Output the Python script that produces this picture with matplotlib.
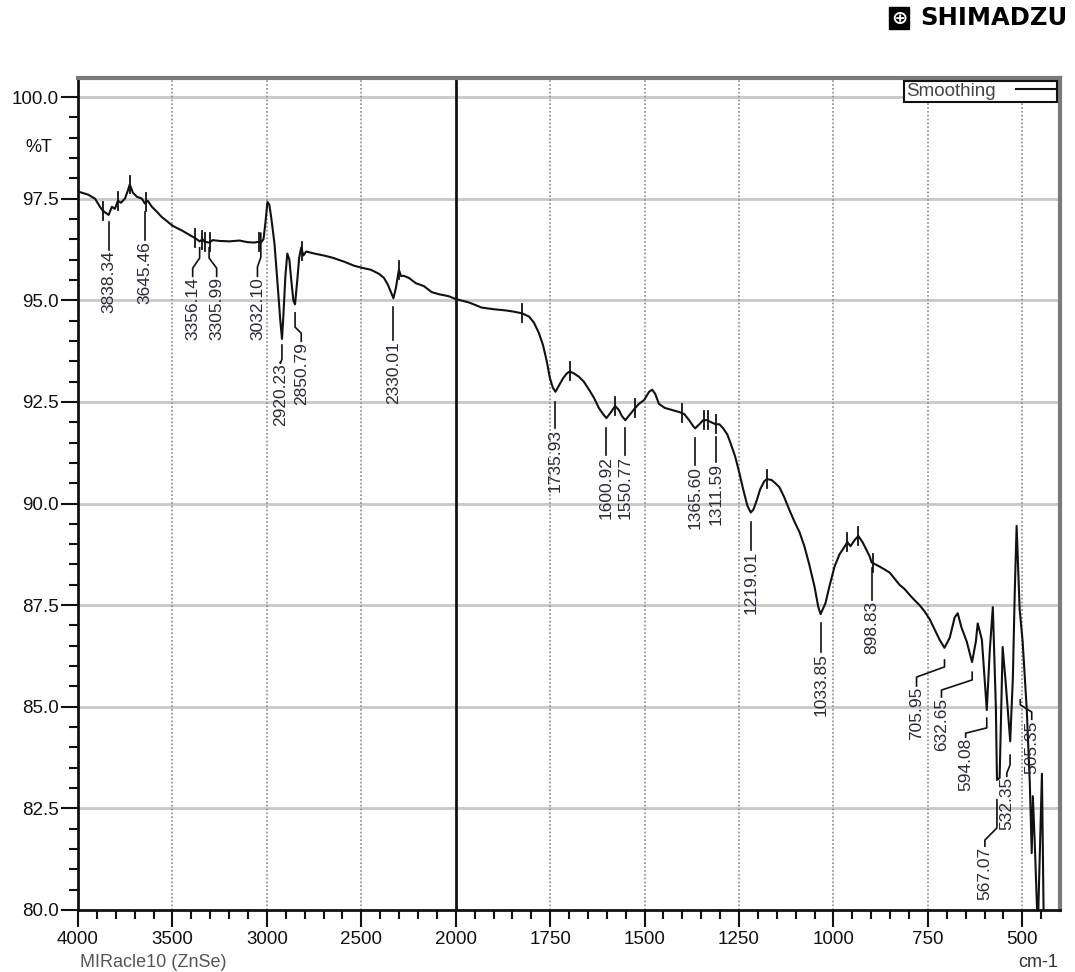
import numpy as np
import matplotlib
matplotlib.use("Agg")
import matplotlib.pyplot as plt
from matplotlib.ticker import FixedLocator, FuncFormatter

plt.rcParams['font.family'] = ['Liberation Sans', 'DejaVu Sans']

# smoothed ATR spectrum, wavenumber (cm-1) vs %T
wavenumber = [
    4000, 3989, 3947, 3910, 3884, 3868, 3838, 3821, 3805, 3789, 3773, 3752,
    3736, 3726, 3710, 3689, 3662, 3646, 3631, 3609, 3583, 3557, 3530, 3504,
    3478, 3451, 3425, 3398, 3377, 3356, 3341, 3330, 3306, 3287, 3250, 3198,
    3145, 3103, 3066, 3045, 3032, 3018, 3008, 2997, 2987, 2976, 2960, 2945,
    2929, 2920, 2913, 2902, 2892, 2881, 2871, 2860, 2851, 2839, 2829, 2818,
    2807, 2792, 2749, 2697, 2654, 2591, 2538, 2496, 2449, 2406, 2380, 2359,
    2343, 2330, 2317, 2301, 2290, 2274, 2248, 2211, 2169, 2127, 2090, 2037,
    2000, 1966, 1931, 1899, 1867, 1846, 1825, 1806, 1793, 1780, 1769, 1759,
    1751, 1743, 1736, 1727, 1716, 1706, 1698, 1687, 1674, 1661, 1647, 1634,
    1621, 1610, 1601, 1589, 1578, 1568, 1560, 1551, 1538, 1525, 1515, 1501,
    1488, 1480, 1472, 1462, 1446, 1427, 1408, 1395, 1382, 1371, 1366, 1355,
    1345, 1334, 1324, 1312, 1302, 1292, 1281, 1271, 1260, 1249, 1239, 1228,
    1219, 1212, 1204, 1194, 1183, 1176, 1164, 1154, 1143, 1130, 1117, 1103,
    1090, 1077, 1064, 1050, 1040, 1034, 1021, 1011, 997, 984, 973, 963,
    955, 944, 934, 923, 912, 904, 899, 878, 865, 851, 838, 825,
    812, 798, 785, 772, 759, 745, 732, 719, 706, 692, 679, 671,
    661, 647, 637, 633, 623, 618, 607, 599, 594, 586, 578, 570,
    567, 560, 552, 544, 532, 525, 520, 515, 507, 499, 488, 480,
    475, 472, 467, 459, 448, 443, 437,
]
transmittance = [
    97.68, 97.66, 97.60, 97.50, 97.30, 97.20, 97.10, 97.30, 97.25, 97.45, 97.40, 97.50,
    97.70, 97.85, 97.65, 97.55, 97.50, 97.38, 97.45, 97.30, 97.18, 97.05, 96.95, 96.85,
    96.78, 96.72, 96.65, 96.58, 96.52, 96.45, 96.50, 96.44, 96.42, 96.48, 96.46, 96.45,
    96.47, 96.43, 96.42, 96.44, 96.42, 96.50, 96.90, 97.42, 97.35, 97.00, 96.40, 95.50,
    94.50, 94.05, 94.60, 95.60, 96.15, 96.00, 95.50, 95.00, 94.90, 95.50, 96.05, 96.30,
    96.10, 96.20, 96.15, 96.10, 96.05, 95.95, 95.85, 95.80, 95.75, 95.65, 95.55, 95.38,
    95.20, 95.05, 95.30, 95.75, 95.60, 95.60, 95.55, 95.42, 95.35, 95.20, 95.15, 95.10,
    95.03, 94.95, 94.82, 94.78, 94.75, 94.72, 94.68, 94.60, 94.45, 94.20, 93.90, 93.50,
    93.10, 92.85, 92.75, 92.90, 93.08, 93.20, 93.25, 93.20, 93.12, 93.00, 92.80, 92.60,
    92.35, 92.20, 92.10, 92.25, 92.40, 92.30, 92.15, 92.05, 92.20, 92.35, 92.45, 92.55,
    92.75, 92.80, 92.70, 92.45, 92.35, 92.30, 92.25, 92.20, 92.05, 91.90, 91.85, 91.95,
    92.05, 92.05, 92.00, 91.95, 91.95, 91.85, 91.70, 91.45, 91.15, 90.75, 90.35, 89.95,
    89.78, 89.85, 90.05, 90.35, 90.55, 90.60, 90.58, 90.50, 90.40, 90.15, 89.85, 89.55,
    89.30, 88.95, 88.50, 87.95, 87.45, 87.28, 87.55, 87.95, 88.45, 88.75, 88.90, 89.05,
    88.95, 89.10, 89.20, 89.05, 88.85, 88.70, 88.55, 88.45, 88.38, 88.30, 88.15, 88.00,
    87.90, 87.75, 87.62, 87.50, 87.35, 87.15, 86.90, 86.65, 86.45, 86.70, 87.20, 87.30,
    86.95, 86.60, 86.25, 86.10, 86.60, 87.05, 86.65, 85.60, 84.92, 86.40, 87.45, 85.00,
    83.20, 83.25, 86.47, 85.60, 84.15, 85.70, 87.80, 89.45, 87.40, 86.60, 84.90, 83.10,
    81.40, 82.80, 81.65, 79.50, 83.35, 79.50, 79.20,
]

# picked peaks
peak_values = [3838.34, 3645.46, 3356.14, 3305.99, 3032.10, 2920.23, 2850.79, 2330.01,
               1735.93, 1600.92, 1550.77, 1365.60, 1311.59, 1219.01, 1033.85, 898.83,
               705.95, 632.65, 594.08, 567.07, 532.35, 505.35]

# where each label sits: text x, leader start, knee, elbow, text top (in %T)
label_layout = [
    (3838.34, 96.92, 96.24, 96.24, 96.22),
    (3645.46, 97.17, 96.48, 96.48, 96.46),
    (3393.0, 96.29, 96.04, 95.79, 95.57),
    (3266.0, 96.29, 96.04, 95.79, 95.57),
    (3050.0, 96.65, 96.06, 95.82, 95.57),
    (2929.0, 93.90, 93.55, 93.45, 93.45),
    (2818.0, 94.69, 94.34, 94.19, 93.97),
    (2330.01, 94.83, 94.02, 94.02, 94.00),
    (1735.93, 92.50, 91.86, 91.86, 91.84),
    (1600.92, 91.86, 91.19, 91.19, 91.17),
    (1550.77, 91.86, 91.19, 91.19, 91.17),
    (1365.60, 91.61, 90.95, 90.95, 90.93),
    (1311.59, 91.64, 91.02, 91.02, 91.00),
    (1219.01, 89.54, 88.86, 88.86, 88.84),
    (1033.85, 87.06, 86.35, 86.35, 86.33),
    (898.83, 88.41, 87.63, 87.63, 87.61),
    (780.0, 86.15, 85.98, 85.73, 85.49),
    (714.0, 85.85, 85.66, 85.41, 85.22),
    (650.0, 84.72, 84.48, 84.35, 84.23),
    (599.0, 82.71, 82.02, 81.72, 81.55),
    (541.0, 83.81, 83.57, 83.37, 83.27),
    (475.0, 85.17, 85.05, 84.87, 84.67),
]

# small peak-pick ticks drawn across the trace
tick_marks = [3868, 3790, 3726, 3640, 3380, 3345, 3330, 3300, 3040, 2813, 2301,
              1825, 1698, 1578, 1525, 1400, 1343, 1333, 1311, 1176, 963, 934, 894]

major_x = [4000, 3500, 3000, 2500, 2000, 1750, 1500, 1250, 1000, 750, 500]
minor_x = list(range(4000, 2000, -100)) + list(range(2000, 400, -50))
major_y = [80.0, 82.5, 85.0, 87.5, 90.0, 92.5, 95.0, 97.5, 100.0]
minor_y = list(np.arange(80.0, 100.01, 0.5))

wn = np.array(wavenumber)
tr = np.array(transmittance)


# below 2000 cm-1 the axis is stretched by two
def fwd(x):
    x = np.asarray(x, dtype=float)
    return np.where(x >= 2000, x, 2 * x - 2000)


def inv(u):
    u = np.asarray(u, dtype=float)
    return np.where(u >= 2000, u, (u + 2000) / 2)


fig = plt.figure(figsize=(10.75, 9.72), dpi=100)
ax = fig.add_axes([0.0726, 0.0638, 0.9135, 0.856])
ax.set_xscale('function', functions=(fwd, inv))
ax.set_xlim(4000, 400)
ax.set_ylim(80, 100.47)

# grid
for y in major_y[1:]:
    ax.axhline(y, color='#c8c8c8', lw=2, zorder=1)
for x in major_x[1:]:
    if x == 2000:
        ax.axvline(x, color='#111111', lw=2, zorder=2)
    else:
        ax.axvline(x, color='#8a8a8a', lw=1.2, ls=(0, (1, 1.3)), zorder=1)

ax.plot(wn, tr, color='#111111', lw=1.5, zorder=3, label='Smoothing')

# peak-pick ticks
asc_wn, asc_tr = wn[::-1], tr[::-1]
for m in tick_marks:
    t = np.interp(m, asc_wn, asc_tr)
    ax.plot([m, m], [t - 0.22, t + 0.22], color='#111111', lw=1.3, zorder=3)

# peak labels with leaders
for v, (tx, t0, t1, t2, t3) in zip(peak_values, label_layout):
    ax.plot([v, v, tx, tx], [t0, t1, t2, t3 + 0.02], color='#111111', lw=1.2, zorder=3)
    ax.text(tx, t3, f"{v:.2f}", rotation=90, ha='center', va='top',
            fontsize=12.5, color='#2a2a38', zorder=4)

# axes styling
ax.xaxis.set_major_locator(FixedLocator(major_x))
ax.xaxis.set_minor_locator(FixedLocator(minor_x))
ax.xaxis.set_major_formatter(FuncFormatter(lambda v, p: f"{v:.0f}"))
ax.xaxis.set_minor_formatter(FuncFormatter(lambda v, p: ""))
ax.yaxis.set_major_locator(FixedLocator(major_y))
ax.yaxis.set_minor_locator(FixedLocator(minor_y))
ax.yaxis.set_major_formatter(FuncFormatter(lambda v, p: f"{v:.1f}"))
ax.tick_params(which='major', direction='out', length=12, width=1.5,
               labelsize=13.5, pad=2, colors='#111111')
ax.tick_params(axis='x', which='major', pad=3)
ax.tick_params(which='minor', direction='out', length=6.5, width=1.5, colors='#111111')

for side in ('left', 'bottom'):
    ax.spines[side].set_color('#111111')
    ax.spines[side].set_linewidth(2)
for side in ('top', 'right'):
    ax.spines[side].set_color('#7a7a7a')
    ax.spines[side].set_linewidth(3)

ax.text(-0.04, 98.75, '%T', transform=ax.get_yaxis_transform(), ha='center',
        va='center', fontsize=13, color='#111111')

leg = ax.legend(loc='upper right', markerfirst=False, fancybox=False,
                edgecolor='#111111', framealpha=1, fontsize=13.5, borderpad=0.1,
                handlelength=2.1, handletextpad=1.1, borderaxespad=0.15,
                labelcolor='#444444')
leg.get_frame().set_linewidth(1.5)

fig.text(80 / 1075, 1 - 962 / 972, 'MIRacle10 (ZnSe)', ha='left', va='center',
         fontsize=13, color='#555555')
fig.text(1058 / 1075, 1 - 962 / 972, 'cm-1', ha='right', va='center',
         fontsize=13, color='#333333')

# instrument logo
fig.text(899 / 1075, 1 - 18 / 972, '\u2295', ha='center', va='center', fontsize=14,
         color='white', family='DejaVu Sans', fontweight='bold',
         bbox=dict(boxstyle='square,pad=0.1', facecolor='black', edgecolor='black'))
fig.text(920 / 1075, 1 - 18 / 972, 'SHIMADZU', ha='left', va='center', fontsize=17.5,
         color='black', family='DejaVu Sans', fontweight='bold')

fig.savefig('out.png', dpi=100)
